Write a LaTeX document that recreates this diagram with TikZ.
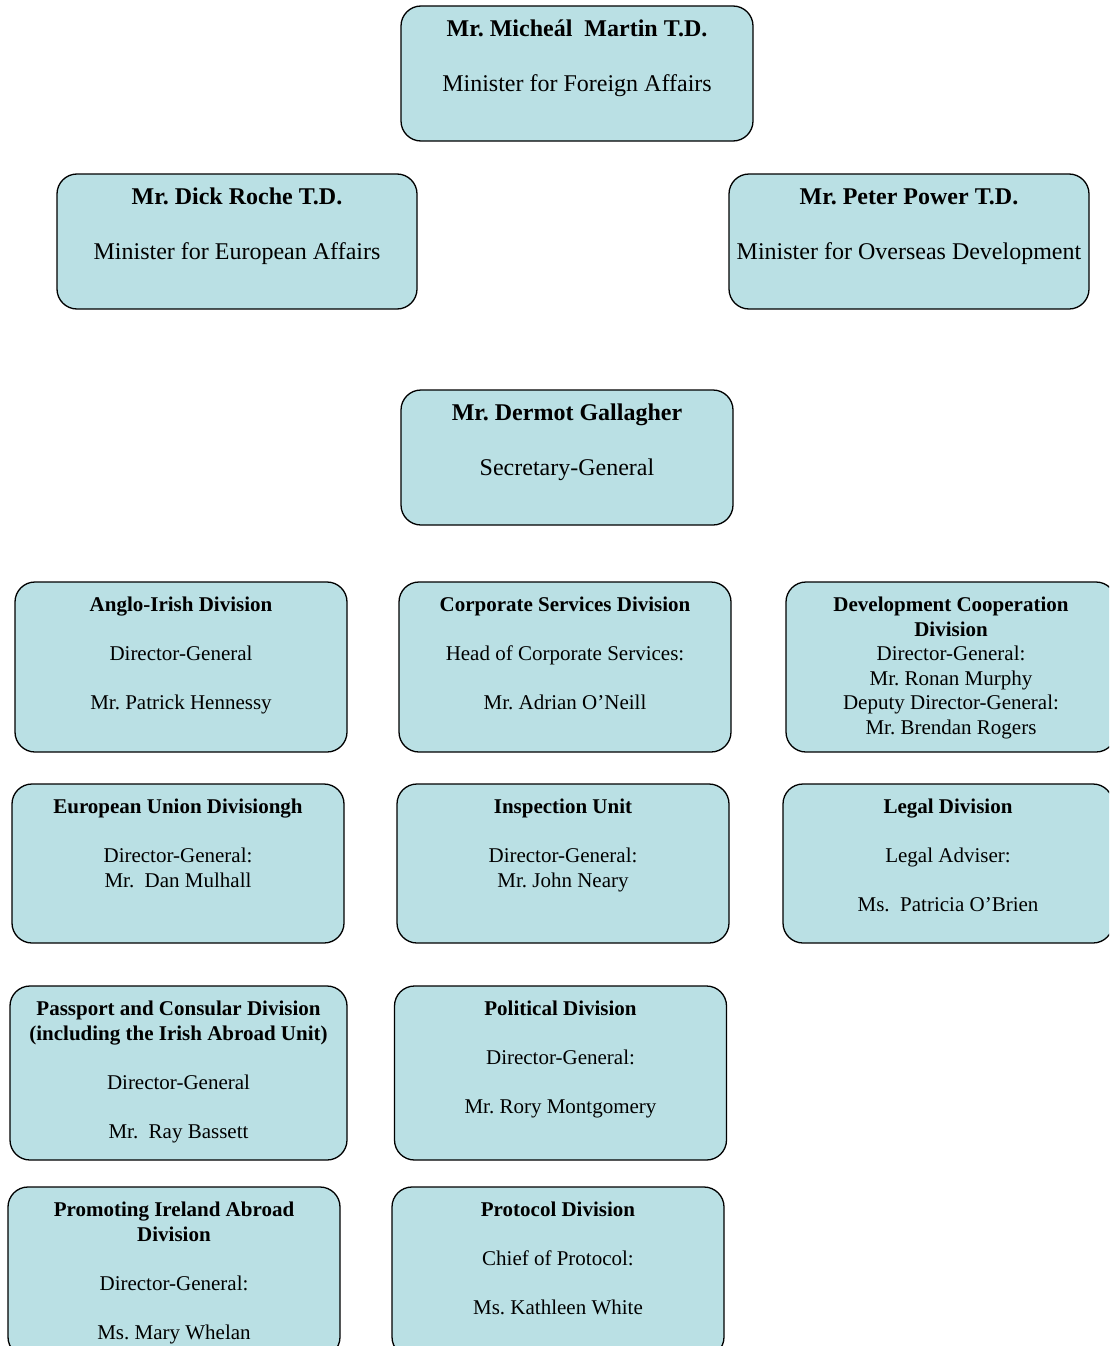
\documentclass[tikz,border=0pt]{standalone}
\usepackage{fontspec}
\setmainfont{Liberation Serif}
\frenchspacing
\usetikzlibrary{positioning}
\definecolor{boxcyan}{RGB}{186,224,228}
\begin{document}
\begin{tikzpicture}[x=1pt, y=-1pt, line join=round,
	orgbox/.style={draw, line width=1.3pt, fill=boxcyan, rounded corners=20pt, inner sep=0pt, minimum width=332pt},
	minbox/.style={orgbox, minimum width=352pt, minimum height=135pt},
	mintext/.style={inner sep=0pt, align=center, font=\fontsize{24}{27.5}\selectfont},
	divtext/.style={inner sep=0pt, align=center, font=\fontsize{21}{24.5}\selectfont}]
	\useasboundingbox (0,0) rectangle (1109,1346);
	\clip (0,0) rectangle (1109,1346);
	% ministers
	\node [minbox] (martin) at (577,73.5) {};
	\node [minbox, minimum width=360pt] (roche) at (237,241.5) {};
	\node [minbox, minimum width=360pt] (power) at (909,241.5) {};
	\node [minbox, minimum width=332pt] (gallagher) at (567,457.5) {};
	\node [mintext, below=11.7pt of martin.north] (martintxt) {\strut\textbf{Mr. Micheál\ \ Martin T.D.}\\[27.5pt] Minister for Foreign Affairs};
	\node [mintext, below=11.7pt of roche.north] (rochetxt) {\strut\textbf{Mr. Dick Roche T.D.}\\[27.5pt] Minister for European Affairs};
	\node [mintext, below=11.7pt of power.north] (powertxt) {\strut\textbf{Mr. Peter Power T.D.}\\[27.5pt] Minister for Overseas Development};
	\node [mintext, below=11.7pt of gallagher.north] (gallaghertxt) {\strut\textbf{Mr. Dermot Gallagher}\\[27.5pt] Secretary-General};
	% divisions, row by row
	\node [orgbox, minimum height=170pt] (anglo) at (181,667) {};
	\node [orgbox, minimum height=170pt] (corporate) at (565,667) {};
	\node [orgbox, minimum height=170pt, minimum width=330pt] (devco) at (951,667) {};
	\node [orgbox, minimum height=159pt] (eu) at (178,863.5) {};
	\node [orgbox, minimum height=159pt] (inspection) at (563,863.5) {};
	\node [orgbox, minimum height=159pt, minimum width=330pt] (legal) at (948,863.5) {};
	\node [orgbox, minimum height=174pt, minimum width=337pt] (passport) at (178.5,1073) {};
	\node [orgbox, minimum height=174pt] (political) at (560.5,1073) {};
	\node [orgbox, minimum height=170pt] (promoting) at (174,1272) {};
	\node [orgbox, minimum height=170pt] (protocol) at (558,1272) {};
	\node [divtext, below=13pt of anglo.north] (anglotxt) {\strut\textbf{Anglo-Irish Division}\\[24.5pt] Director-General\\[24.5pt] Mr. Patrick Hennessy};
	\node [divtext, below=13pt of corporate.north] (corporatetxt) {\strut\textbf{Corporate Services Division}\\[24.5pt] Head of Corporate Services:\\[24.5pt] Mr. Adrian O’Neill};
	\node [divtext, below=13pt of devco.north] (devcotxt) {\strut\textbf{Development Cooperation}\\ \textbf{Division}\\ Director-General:\\ Mr. Ronan Murphy\\ Deputy Director-General:\\ Mr. Brendan Rogers};
	\node [divtext, below=13pt of eu.north] (eutxt) {\strut\textbf{European Union Divisiongh}\\[24.5pt] Director-General:\\ Mr.\ \ Dan Mulhall};
	\node [divtext, below=13pt of inspection.north] (inspectiontxt) {\strut\textbf{Inspection Unit}\\[24.5pt] Director-General:\\ Mr. John Neary};
	\node [divtext, below=13pt of legal.north] (legaltxt) {\strut\textbf{Legal Division}\\[24.5pt] Legal Adviser:\\[24.5pt] Ms.\ \ Patricia O’Brien};
	\node [divtext, below=13pt of passport.north] (passporttxt) {\strut\textbf{Passport and Consular Division}\\ \textbf{(including the Irish Abroad Unit)}\\[24.5pt] Director-General\\[24.5pt] Mr.\ \ Ray Bassett};
	\node [divtext, below=13pt of political.north] (politicaltxt) {\strut\textbf{Political Division}\\[24.5pt] Director-General:\\[24.5pt] Mr. Rory Montgomery};
	\node [divtext, below=13pt of promoting.north] (promotingtxt) {\strut\textbf{Promoting Ireland Abroad}\\ \textbf{Division}\\[24.5pt] Director-General:\\[24.5pt] Ms. Mary Whelan};
	\node [divtext, below=13pt of protocol.north] (protocoltxt) {\strut\textbf{Protocol Division}\\[24.5pt] Chief of Protocol:\\[24.5pt] Ms. Kathleen White};
\end{tikzpicture}
\end{document}
